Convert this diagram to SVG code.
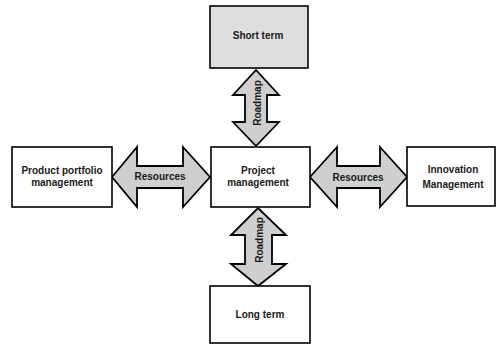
<svg xmlns="http://www.w3.org/2000/svg" width="496" height="345" viewBox="0 0 496 345">
<style>
.box{stroke:#000;stroke-width:1.6;fill:#fff}
.shade{fill:#dedede}
.arr{fill:#cfcfcf;stroke:#000;stroke-width:1.8;stroke-linejoin:miter}
text{font-family:"Liberation Sans",Arial,sans-serif;font-size:10px;font-weight:bold;fill:#1a1a1a;text-anchor:middle}
</style>
<rect width="496" height="345" fill="#fff"/>
<g id="connectors">
<g id="arrow-top">
<polygon class="arr" points="256,70 279,95 267,95 267,122 279,122 256,146 233,122 245,122 245,95 233,95"/>
<text transform="translate(261,103) rotate(-90)" font-size="9">Roadmap</text>
</g>
<g id="arrow-bottom">
<polygon class="arr" points="258,208 286,235 272,235 272,264 286,264 258,286 231,264 245,264 245,235 231,235"/>
<text transform="translate(263,240) rotate(-90)" font-size="9">Roadmap</text>
</g>
<g id="arrow-left">
<polygon class="arr" points="112,177 137,147 137,166 183,166 183,147 210,177 183,207 183,188 137,188 137,207"/>
<text x="160" y="180" font-size="9">Resources</text>
</g>
<g id="arrow-right">
<polygon class="arr" points="310,177 337,147 337,166 380,166 380,147 407,177 380,207 380,188 337,188 337,207"/>
<text x="358" y="181">Resources</text>
</g>
</g>
<g id="short-term">
<rect class="box shade" x="210" y="6" width="98" height="62"/>
<text x="258" y="39">Short term</text>
</g>
<g id="product-portfolio">
<rect class="box" x="12" y="147" width="100" height="60"/>
<text x="62" y="174">Product portfolio</text>
<text x="62" y="186">management</text>
</g>
<g id="project-management">
<rect class="box" x="211" y="147" width="99" height="60"/>
<text x="258" y="174">Project</text>
<text x="258" y="186">management</text>
</g>
<g id="innovation">
<rect class="box" x="407" y="147" width="88" height="59" fill="#e4e4e4"/>
<text x="453" y="173">Innovation</text>
<text x="453" y="188">Management</text>
</g>
<g id="long-term">
<rect class="box" x="210" y="286" width="100" height="57"/>
<text x="260" y="318">Long term</text>
</g>
</svg>
